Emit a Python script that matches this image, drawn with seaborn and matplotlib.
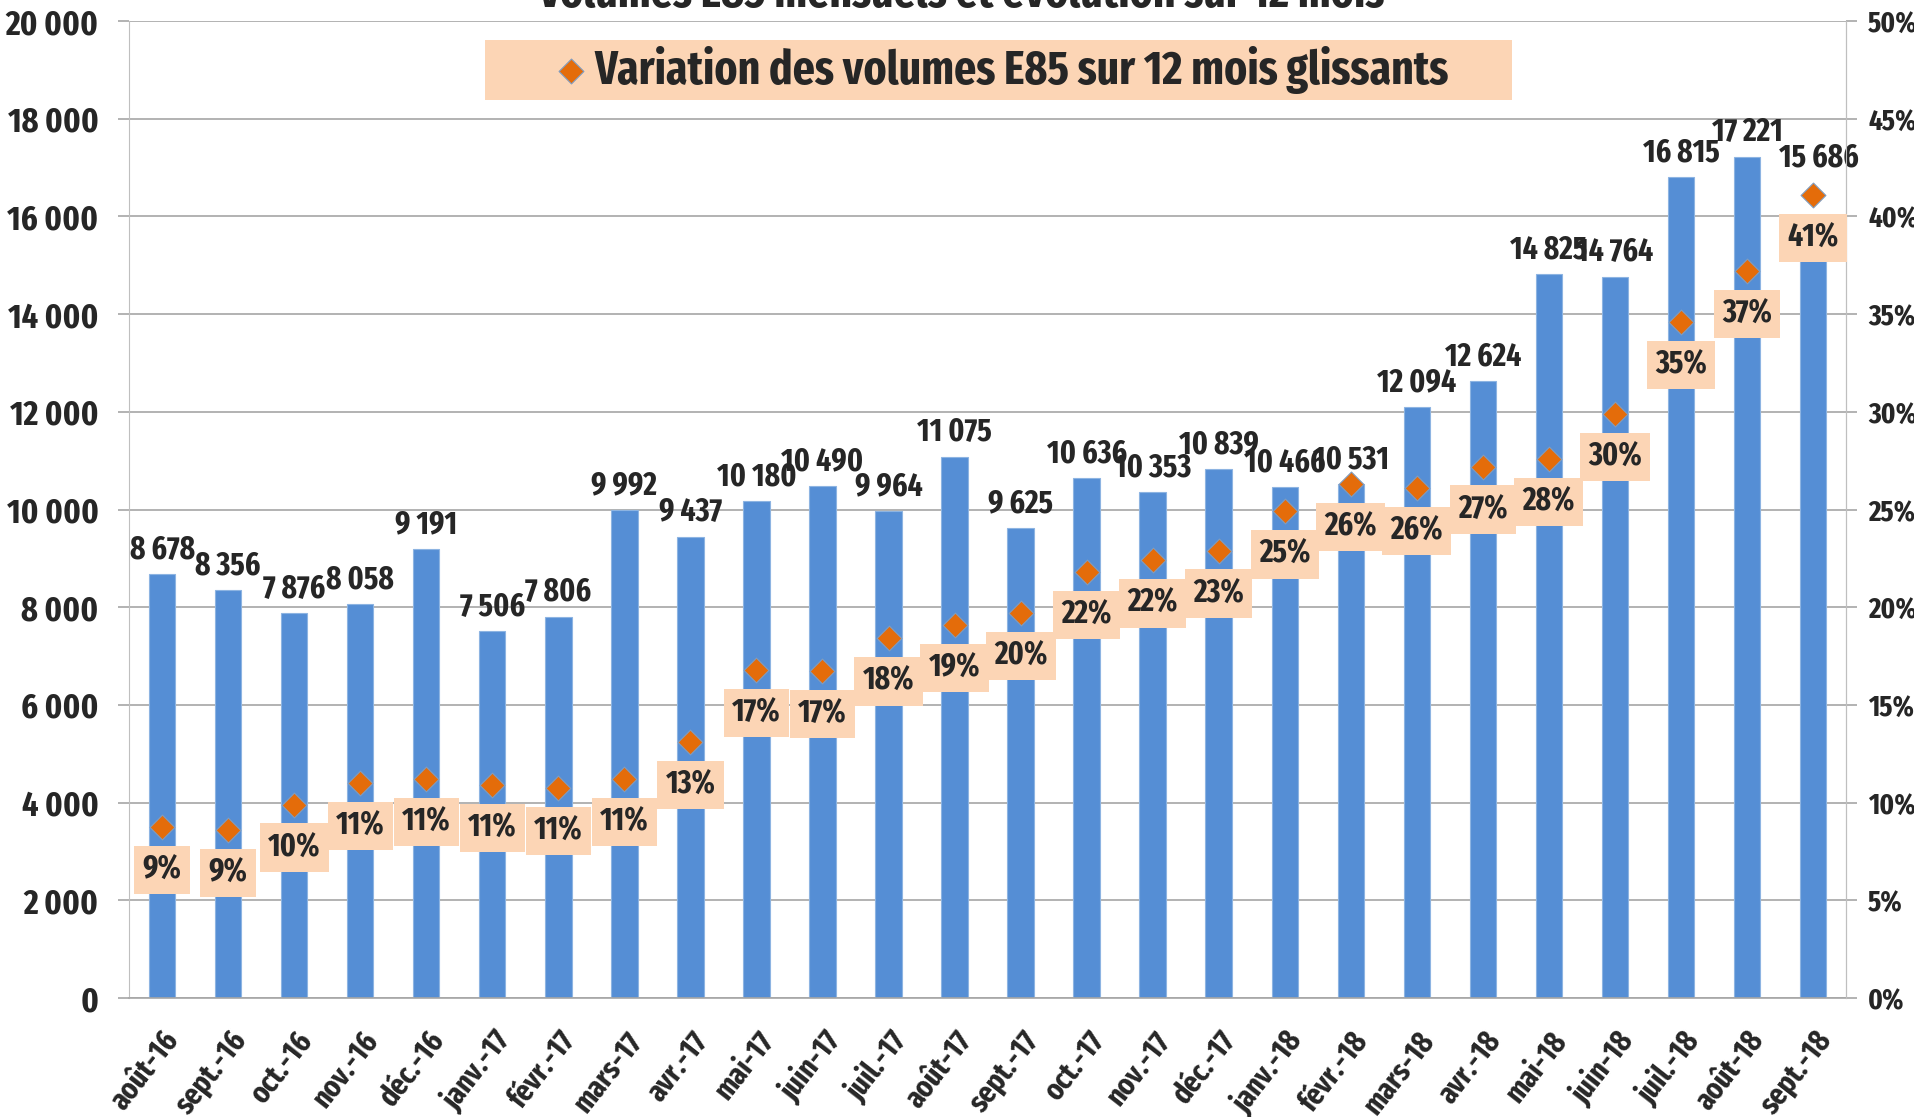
import numpy as np
import matplotlib.pyplot as plt
from matplotlib.patches import Rectangle
import seaborn as sns

months = ["août-16", "sept.-16", "oct.-16", "nov.-16", "déc.-16", "janv.-17",
          "févr.-17", "mars-17", "avr.-17", "mai-17", "juin-17", "juil.-17",
          "août-17", "sept.-17", "oct.-17", "nov.-17", "déc.-17", "janv.-18",
          "févr.-18", "mars-18", "avr.-18", "mai-18", "juin-18", "juil.-18",
          "août-18", "sept.-18"]
volumes = [8678, 8356, 7876, 8058, 9191, 7506, 7806, 9992, 9437, 10180, 10490,
           9964, 11075, 9625, 10636, 10353, 10839, 10466, 10531, 12094, 12624,
           14825, 14764, 16815, 17221, 15686]
variation = [8.75, 8.6, 9.9, 11.0, 11.2, 10.9, 10.75, 11.2, 13.1, 16.8, 16.75,
             18.4, 19.1, 19.7, 21.8, 22.4, 22.9, 24.9, 26.3, 26.1, 27.2, 27.6,
             29.9, 34.6, 37.2, 41.1]
left_ticks = list(range(0, 20001, 2000))
right_ticks = list(range(0, 51, 5))

BLUE = "#558ED5"
ORANGE = "#E46C0A"
PEACH = "#FCD5B5"
GRID = "#A6A6A6"

sns.set_style("white")
plt.rcParams["font.family"] = ["Fira Sans Extra Condensed", "Roboto Condensed",
                               "Liberation Sans", "DejaVu Sans"]
plt.rcParams["font.weight"] = "bold"

fig = plt.figure(figsize=(19.15, 11.17), dpi=100)
ax = fig.add_axes([0.0674, 0.1065, 0.8966, 0.8747])

# barres des volumes mensuels
sns.barplot(x=months, y=volumes, color=BLUE, width=0.4, saturation=1,
            edgecolor="#8DB4E2", linewidth=0.8, ax=ax)
ax.set_ylim(0, 20000)
ax.set_xlim(-0.5, len(months) - 0.5)
ax.set_yticks(left_ticks)
ax.set_yticklabels([f"{v:,}".replace(",", " ") for v in left_ticks],
                   fontsize=25, fontweight="bold")
ax.yaxis.grid(True, color=GRID, linewidth=1.2)
ax.set_axisbelow(True)
ax.tick_params(axis="y", length=8, color=GRID, width=1.2, pad=14)
ax.set_xlabel("")
ax.set_ylabel("")

# etiquettes de l'axe x + petits traits entre categories
ax.set_xticks(np.arange(len(months)))
ax.set_xticklabels(months, rotation=52, ha="right", rotation_mode="anchor",
                   fontsize=22, fontweight="bold")
ax.tick_params(axis="x", which="major", length=0, pad=20)
ax.set_xticks(np.arange(len(months) + 1) - 0.5, minor=True)
ax.tick_params(axis="x", which="minor", length=9, color="#BFBFBF", width=1.2)
for side in ["left", "right"]:
    ax.spines[side].set_color("#BFBFBF")
ax.spines["bottom"].set_color(GRID)
ax.spines["bottom"].set_linewidth(1.2)
ax.spines["top"].set_visible(False)

labels = ax.bar_label(ax.containers[0],
                      labels=[f"{v:,}".replace(",", " ") for v in volumes],
                      padding=6, fontsize=23, fontweight="bold")
# le dernier libelle est remonte au-dessus du marqueur
labels[-1].set_position((4, 42))

# axe de droite : variation sur 12 mois glissants
ax2 = ax.twinx()
sns.scatterplot(x=np.arange(len(months)), y=variation, marker="D", s=160,
                color=ORANGE, edgecolor="#7F9CC0", linewidth=0.8, ax=ax2,
                zorder=5, label="Variation des volumes E85 sur 12 mois glissants")
ax2.set_ylim(0, 50)
ax2.set_yticks(right_ticks)
ax2.set_yticklabels([f"{v}%" for v in right_ticks], fontsize=21, fontweight="bold")
ax2.tick_params(axis="y", length=8, color=GRID, width=1.2, pad=8)
ax2.set_ylabel("")
for side in ["top", "left", "bottom"]:
    ax2.spines[side].set_visible(False)
ax2.spines["right"].set_color("#BFBFBF")

for i, p in enumerate(variation):
    ax2.annotate(f"{p:.0f}%", (i, p), xytext=(0, -31), textcoords="offset points",
                 ha="center", va="center", fontsize=23, fontweight="bold",
                 bbox=dict(boxstyle="square,pad=0.26", fc=PEACH, ec="none"),
                 zorder=6)

# legende dans un bandeau peche
ax2.get_legend().remove()
handles, texts = ax2.get_legend_handles_labels()
fig.patches.append(Rectangle((0.2533, 0.9105), 0.5363, 0.0537, facecolor=PEACH,
                             edgecolor="none", transform=fig.transFigure, zorder=0))
fig.legend(handles, texts, loc="center", bbox_to_anchor=(0.5225, 0.937),
           frameon=False, borderpad=0, handlelength=0.8, handletextpad=0.1,
           markerscale=1.0, prop={"size": 34, "weight": "bold"})

fig.text(0.502, 0.9937, "Volumes E85 mensuels et évolution sur 12 mois",
         ha="center", va="baseline", fontsize=34, fontweight="bold")

fig.savefig("out.png", dpi=100)
